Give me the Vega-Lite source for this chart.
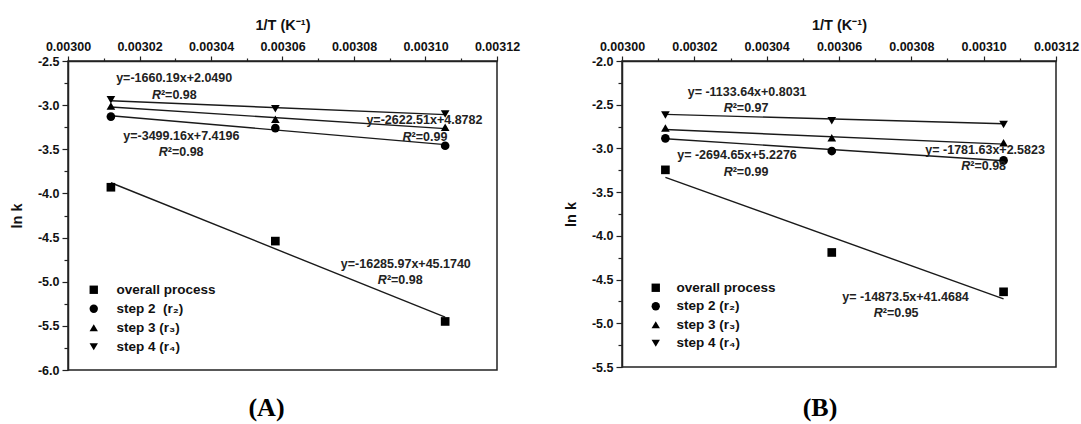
{
  "$schema": "https://vega.github.io/schema/vega-lite/v6.json",
  "background": "white",
  "padding": {"left": 8, "top": 16, "right": 5, "bottom": 2},
  "bounds": "flush",
  "spacing": 125,
  "config": {
    "font": "Liberation Sans",
    "view": {"stroke": "#222", "strokeWidth": 1.5},
    "locale": {"number": {"decimal": ".", "thousands": ",", "grouping": [3], "currency": ["$", ""], "minus": "-"}}
  },
  "datasets": {
    "pts": [
      {"panel": "A", "series": "overall process", "x": 0.003012, "y": -3.93},
      {"panel": "A", "series": "overall process", "x": 0.003058, "y": -4.54},
      {"panel": "A", "series": "overall process", "x": 0.0031055, "y": -5.45},
      {"panel": "A", "series": "step 2\u00a0 (r\u2082)", "x": 0.003012, "y": -3.13},
      {"panel": "A", "series": "step 2\u00a0 (r\u2082)", "x": 0.003058, "y": -3.26},
      {"panel": "A", "series": "step 2\u00a0 (r\u2082)", "x": 0.0031055, "y": -3.46},
      {"panel": "A", "series": "step 3 (r\u2083)", "x": 0.003012, "y": -3.01},
      {"panel": "A", "series": "step 3 (r\u2083)", "x": 0.003058, "y": -3.16},
      {"panel": "A", "series": "step 3 (r\u2083)", "x": 0.0031055, "y": -3.25},
      {"panel": "A", "series": "step 4 (r\u2084)", "x": 0.003012, "y": -2.94},
      {"panel": "A", "series": "step 4 (r\u2084)", "x": 0.003058, "y": -3.04},
      {"panel": "A", "series": "step 4 (r\u2084)", "x": 0.0031055, "y": -3.10},
      {"panel": "B", "series": "overall process", "x": 0.003012, "y": -3.245},
      {"panel": "B", "series": "overall process", "x": 0.003058, "y": -4.19},
      {"panel": "B", "series": "overall process", "x": 0.0031055, "y": -4.64},
      {"panel": "B", "series": "step 2 (r\u2082)", "x": 0.003012, "y": -2.885},
      {"panel": "B", "series": "step 2 (r\u2082)", "x": 0.003058, "y": -3.03},
      {"panel": "B", "series": "step 2 (r\u2082)", "x": 0.0031055, "y": -3.137},
      {"panel": "B", "series": "step 3 (r\u2083)", "x": 0.003012, "y": -2.767},
      {"panel": "B", "series": "step 3 (r\u2083)", "x": 0.003058, "y": -2.878},
      {"panel": "B", "series": "step 3 (r\u2083)", "x": 0.0031055, "y": -2.936},
      {"panel": "B", "series": "step 4 (r\u2084)", "x": 0.003012, "y": -2.619},
      {"panel": "B", "series": "step 4 (r\u2084)", "x": 0.003058, "y": -2.684},
      {"panel": "B", "series": "step 4 (r\u2084)", "x": 0.0031055, "y": -2.725}
    ],
    "fits": [
      {"panel": "A", "series": "overall", "x": 0.003012, "y": -3.879},
      {"panel": "A", "series": "overall", "x": 0.0031055, "y": -5.402},
      {"panel": "A", "series": "s2", "x": 0.003012, "y": -3.120},
      {"panel": "A", "series": "s2", "x": 0.0031055, "y": -3.447},
      {"panel": "A", "series": "s3", "x": 0.003012, "y": -3.021},
      {"panel": "A", "series": "s3", "x": 0.0031055, "y": -3.266},
      {"panel": "A", "series": "s4", "x": 0.003012, "y": -2.951},
      {"panel": "A", "series": "s4", "x": 0.0031055, "y": -3.107},
      {"panel": "B", "series": "overall", "x": 0.003012, "y": -3.331},
      {"panel": "B", "series": "overall", "x": 0.0031055, "y": -4.721},
      {"panel": "B", "series": "s2", "x": 0.003012, "y": -2.889},
      {"panel": "B", "series": "s2", "x": 0.0031055, "y": -3.141},
      {"panel": "B", "series": "s3", "x": 0.003012, "y": -2.784},
      {"panel": "B", "series": "s3", "x": 0.0031055, "y": -2.951},
      {"panel": "B", "series": "s4", "x": 0.003012, "y": -2.611},
      {"panel": "B", "series": "s4", "x": 0.0031055, "y": -2.717}
    ],
    "notes": [
      {"panel": "A", "kind": "eq", "x": 0.0030297, "y": -2.693, "text": "y=-1660.19x+2.0490"},
      {"panel": "A", "kind": "r2", "x": 0.0030260, "y": -2.885, "text": "\u00b2=0.98"},
      {"panel": "A", "kind": "eq", "x": 0.0030997, "y": -3.172, "text": "y=-2622.51x+4.8782"},
      {"panel": "A", "kind": "r2", "x": 0.0030961, "y": -3.361, "text": "\u00b2=0.99"},
      {"panel": "A", "kind": "eq", "x": 0.0030317, "y": -3.349, "text": "y=-3499.16x+7.4196"},
      {"panel": "A", "kind": "r2", "x": 0.0030279, "y": -3.527, "text": "\u00b2=0.98"},
      {"panel": "A", "kind": "eq", "x": 0.0030945, "y": -4.802, "text": "y=-16285.97x+45.1740"},
      {"panel": "A", "kind": "r2", "x": 0.0030892, "y": -4.984, "text": "\u00b2=0.98"},
      {"panel": "B", "kind": "eq", "x": 0.0030346, "y": -2.352, "text": "y= -1133.64x+0.8031"},
      {"panel": "B", "kind": "r2", "x": 0.0030306, "y": -2.542, "text": "\u00b2=0.97"},
      {"panel": "B", "kind": "eq", "x": 0.0030318, "y": -3.080, "text": "y= -2694.65x+5.2276"},
      {"panel": "B", "kind": "r2", "x": 0.0030306, "y": -3.268, "text": "\u00b2=0.99"},
      {"panel": "B", "kind": "eq", "x": 0.0031004, "y": -3.019, "text": "y= -1781.63x+2.5823"},
      {"panel": "B", "kind": "r2", "x": 0.0030963, "y": -3.203, "text": "\u00b2=0.98"},
      {"panel": "B", "kind": "eq", "x": 0.0030784, "y": -4.703, "text": "y= -14873.5x+41.4684"},
      {"panel": "B", "kind": "r2", "x": 0.0030721, "y": -4.879, "text": "\u00b2=0.95"}
    ]
  },
  "resolve": {"scale": {"shape": "independent"}, "legend": {"shape": "independent"}},
  "hconcat": [
    {
      "width": 429,
      "height": 309,
      "title": {"text": "(A)", "orient": "bottom", "font": "Liberation Serif", "fontSize": 26, "fontWeight": "bold", "color": "black", "offset": 18, "dx": -16},
      "resolve": {"axis": {"x": "independent", "y": "independent"}},
      "layer": [
        {
          "data": {"name": "fits"},
          "transform": [{"filter": "datum.panel === 'A'"}],
          "mark": {"type": "line", "color": "#1a1a1a", "strokeWidth": 1.4},
          "encoding": {
            "x": {"field": "x", "type": "quantitative", "scale": {"domain": [0.003, 0.00312], "nice": false, "zero": false},
              "axis": {"orient": "top", "values": [0.00301, 0.00303, 0.00305, 0.00307, 0.00309, 0.00311], "labels": false, "domain": false, "grid": false, "title": null, "tickSize": 3, "tickColor": "#222", "tickWidth": 1.2}},
            "y": {"field": "y", "type": "quantitative", "scale": {"domain": [-6, -2.5], "nice": false, "zero": false},
              "axis": {"orient": "left", "values": [-5.75, -5.25, -4.75, -4.25, -3.75, -3.25, -2.75], "labels": false, "domain": false, "grid": false, "title": null, "tickSize": 4, "tickColor": "#222", "tickWidth": 1.2}},
            "detail": {"field": "series"}
          }
        },
        {
          "data": {"name": "pts"},
          "transform": [{"filter": "datum.panel === 'A'"}],
          "mark": {"type": "point", "filled": true, "size": 75, "color": "black", "opacity": 1},
          "encoding": {
            "x": {"field": "x", "type": "quantitative", "scale": {"domain": [0.003, 0.00312], "nice": false, "zero": false},
              "axis": {"orient": "top", "values": [0.003, 0.00302, 0.00304, 0.00306, 0.00308, 0.0031, 0.00312], "format": ".5f", "grid": false, "tickSize": 5, "tickColor": "#222", "tickWidth": 1.2, "domainColor": "#222", "domainWidth": 1.5, "labelFontSize": 12.5, "labelFontWeight": "bold", "labelColor": "#111", "labelPadding": 3, "labelFlush": false, "title": "1/T (K\u207b\u00b9)", "titleFontSize": 14.5, "titleFontWeight": "bold", "titleColor": "#111", "titlePadding": 8}},
            "y": {"field": "y", "type": "quantitative", "scale": {"domain": [-6, -2.5], "nice": false, "zero": false},
              "axis": {"orient": "left", "values": [-6, -5.5, -5, -4.5, -4, -3.5, -3, -2.5], "format": ".1f", "grid": false, "tickSize": 6, "tickColor": "#222", "tickWidth": 1.2, "domainColor": "#222", "domainWidth": 1.5, "labelFontSize": 12.5, "labelFontWeight": "bold", "labelColor": "#111", "labelPadding": 3, "labelFlush": false, "title": "ln k", "titleFontSize": 14.5, "titleFontWeight": "bold", "titleColor": "#111", "titlePadding": 13}},
            "shape": {"field": "series", "type": "nominal",
              "scale": {"domain": ["overall process", "step 2\u00a0 (r\u2082)", "step 3 (r\u2083)", "step 4 (r\u2084)"], "range": ["square", "circle", "triangle-up", "triangle-down"]},
              "legend": {"orient": "none", "legendX": 19, "legendY": 222, "title": null, "labelFontSize": 13.5, "labelFontWeight": "bold", "labelColor": "#111", "labelOffset": 16, "rowPadding": 4, "symbolSize": 70, "symbolFillColor": "black", "symbolStrokeColor": "black", "symbolStrokeWidth": 0}}
          }
        },
        {
          "data": {"name": "notes"},
          "transform": [{"filter": "datum.panel === 'A' && datum.kind === 'eq'"}],
          "mark": {"type": "text", "align": "center", "baseline": "middle", "fontSize": 12.5, "fontWeight": "bold", "color": "#222"},
          "encoding": {
            "x": {"field": "x", "type": "quantitative", "axis": null},
            "y": {"field": "y", "type": "quantitative", "axis": null},
            "text": {"field": "text"}
          }
        },
        {
          "data": {"name": "notes"},
          "transform": [{"filter": "datum.panel === 'A' && datum.kind === 'r2'"}],
          "mark": {"type": "text", "align": "left", "baseline": "middle", "fontSize": 12.5, "fontWeight": "bold", "color": "#222"},
          "encoding": {
            "x": {"field": "x", "type": "quantitative", "axis": null},
            "y": {"field": "y", "type": "quantitative", "axis": null},
            "text": {"field": "text"}
          }
        },
        {
          "data": {"name": "notes"},
          "transform": [{"filter": "datum.panel === 'A' && datum.kind === 'r2'"}],
          "mark": {"type": "text", "align": "right", "baseline": "middle", "fontSize": 12.5, "fontWeight": "bold", "fontStyle": "italic", "color": "#222"},
          "encoding": {
            "x": {"field": "x", "type": "quantitative", "axis": null},
            "y": {"field": "y", "type": "quantitative", "axis": null},
            "text": {"value": "R"}
          }
        }
      ]
    },
    {
      "width": 434,
      "height": 306,
      "title": {"text": "(B)", "orient": "bottom", "font": "Liberation Serif", "fontSize": 26, "fontWeight": "bold", "color": "black", "offset": 21, "dx": -19},
      "resolve": {"axis": {"x": "independent", "y": "independent"}},
      "layer": [
        {
          "data": {"name": "fits"},
          "transform": [{"filter": "datum.panel === 'B'"}],
          "mark": {"type": "line", "color": "#1a1a1a", "strokeWidth": 1.4},
          "encoding": {
            "x": {"field": "x", "type": "quantitative", "scale": {"domain": [0.003, 0.00312], "nice": false, "zero": false},
              "axis": {"orient": "top", "values": [0.00301, 0.00303, 0.00305, 0.00307, 0.00309, 0.00311], "labels": false, "domain": false, "grid": false, "title": null, "tickSize": 3, "tickColor": "#222", "tickWidth": 1.2}},
            "y": {"field": "y", "type": "quantitative", "scale": {"domain": [-5.5, -2.0], "nice": false, "zero": false},
              "axis": {"orient": "left", "values": [-5.25, -4.75, -4.25, -3.75, -3.25, -2.75, -2.25], "labels": false, "domain": false, "grid": false, "title": null, "tickSize": 4, "tickColor": "#222", "tickWidth": 1.2}},
            "detail": {"field": "series"}
          }
        },
        {
          "data": {"name": "pts"},
          "transform": [{"filter": "datum.panel === 'B'"}],
          "mark": {"type": "point", "filled": true, "size": 75, "color": "black", "opacity": 1},
          "encoding": {
            "x": {"field": "x", "type": "quantitative", "scale": {"domain": [0.003, 0.00312], "nice": false, "zero": false},
              "axis": {"orient": "top", "values": [0.003, 0.00302, 0.00304, 0.00306, 0.00308, 0.0031, 0.00312], "format": ".5f", "grid": false, "tickSize": 5, "tickColor": "#222", "tickWidth": 1.2, "domainColor": "#222", "domainWidth": 1.5, "labelFontSize": 12.5, "labelFontWeight": "bold", "labelColor": "#111", "labelPadding": 3, "labelFlush": false, "title": "1/T (K\u207b\u00b9)", "titleFontSize": 14.5, "titleFontWeight": "bold", "titleColor": "#111", "titlePadding": 8}},
            "y": {"field": "y", "type": "quantitative", "scale": {"domain": [-5.5, -2.0], "nice": false, "zero": false},
              "axis": {"orient": "left", "values": [-5.5, -5, -4.5, -4, -3.5, -3, -2.5, -2], "format": ".1f", "grid": false, "tickSize": 6, "tickColor": "#222", "tickWidth": 1.2, "domainColor": "#222", "domainWidth": 1.5, "labelFontSize": 12.5, "labelFontWeight": "bold", "labelColor": "#111", "labelPadding": 3, "labelFlush": false, "title": "ln k", "titleFontSize": 14.5, "titleFontWeight": "bold", "titleColor": "#111", "titlePadding": 13}},
            "shape": {"field": "series", "type": "nominal",
              "scale": {"domain": ["overall process", "step 2 (r\u2082)", "step 3 (r\u2083)", "step 4 (r\u2084)"], "range": ["square", "circle", "triangle-up", "triangle-down"]},
              "legend": {"orient": "none", "legendX": 27, "legendY": 220, "title": null, "labelFontSize": 13.5, "labelFontWeight": "bold", "labelColor": "#111", "labelOffset": 14, "rowPadding": 3.5, "symbolSize": 70, "symbolFillColor": "black", "symbolStrokeColor": "black", "symbolStrokeWidth": 0}}
          }
        },
        {
          "data": {"name": "notes"},
          "transform": [{"filter": "datum.panel === 'B' && datum.kind === 'eq'"}],
          "mark": {"type": "text", "align": "center", "baseline": "middle", "fontSize": 12.5, "fontWeight": "bold", "color": "#222"},
          "encoding": {
            "x": {"field": "x", "type": "quantitative", "axis": null},
            "y": {"field": "y", "type": "quantitative", "axis": null},
            "text": {"field": "text"}
          }
        },
        {
          "data": {"name": "notes"},
          "transform": [{"filter": "datum.panel === 'B' && datum.kind === 'r2'"}],
          "mark": {"type": "text", "align": "left", "baseline": "middle", "fontSize": 12.5, "fontWeight": "bold", "color": "#222"},
          "encoding": {
            "x": {"field": "x", "type": "quantitative", "axis": null},
            "y": {"field": "y", "type": "quantitative", "axis": null},
            "text": {"field": "text"}
          }
        },
        {
          "data": {"name": "notes"},
          "transform": [{"filter": "datum.panel === 'B' && datum.kind === 'r2'"}],
          "mark": {"type": "text", "align": "right", "baseline": "middle", "fontSize": 12.5, "fontWeight": "bold", "fontStyle": "italic", "color": "#222"},
          "encoding": {
            "x": {"field": "x", "type": "quantitative", "axis": null},
            "y": {"field": "y", "type": "quantitative", "axis": null},
            "text": {"value": "R"}
          }
        }
      ]
    }
  ]
}
